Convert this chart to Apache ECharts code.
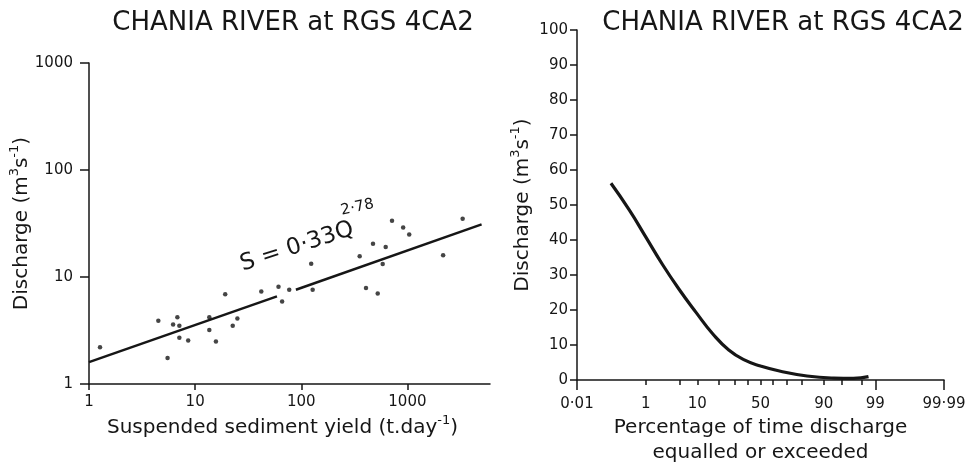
<!DOCTYPE html>
<html>
<head>
<meta charset="utf-8">
<script src="https://cdn.jsdelivr.net/npm/echarts@6/dist/echarts.min.js"></script>
<style>
html, body { margin: 0; padding: 0; background: #fff; }
#chart { width: 971px; height: 464px; }
</style>
</head>
<body>
<div id="chart"></div>
<script>
// sediment rating: observed points (t/day vs m3/s)
var sedimentYield = [1.27, 4.5, 5.5, 6.2, 6.8, 7.1, 7.1, 8.6, 13.6, 13.6, 15.7, 19.2, 22.6, 25, 42, 61, 66, 77,
    124, 128, 355, 407, 474, 525, 585, 624, 716, 912, 1040, 2170, 3315];
var dischargeObs = [2.2, 3.9, 1.75, 3.6, 4.2, 3.5, 2.7, 2.55, 4.2, 3.2, 2.5, 6.9, 3.5, 4.1, 7.3, 8.1, 5.9, 7.6,
    13.3, 7.6, 15.6, 7.9, 20.5, 7.0, 13.2, 19.1, 33.5, 29, 25, 16, 35];
// fitted rating line, drawn in two pieces (gap left for the equation)
var fitYieldA = [1, 59];
var fitQA = [1.6, 6.6];
var fitYieldB = [89, 5000];
var fitQB = [7.6, 31];
var yieldTicks = [1, 10, 100, 1000];

// flow duration curve
var exceedPct = [0.122, 0.39, 1.0, 2.35, 4.9, 9.5, 16.5, 26, 38, 50, 65.7, 82.7, 93.1, 97.0, 98.57];
var flowQ = [56.2, 48.6, 40.9, 33.0, 26.0, 19.4, 13.3, 8.6, 5.6, 4.0, 2.5, 1.15, 0.55, 0.45, 0.95];
var probTicks = [0.01, 1, 5, 10, 20, 30, 40, 50, 60, 70, 80, 90, 95, 98, 99, 99.99];
var probLabels = [0.01, 1, 10, 50, 90, 99, 99.99];
var probLongTicks = [0.01, 99, 99.99];

var FONT = 'DejaVu Sans';
var INK = '#161616';

// inverse normal cdf (Acklam) - gives the probability-paper position
function probit(p) {
    var a = [-39.69683028665376, 220.9460984245205, -275.9285104469687, 138.3577518672690, -30.66479806614716, 2.506628277459239];
    var b = [-54.47609879822406, 161.5858368580409, -155.6989798598866, 66.80131188771972, -13.28068155288572];
    var c = [-0.007784894002430293, -0.3223964580411365, -2.400758277161838, -2.549732539343734, 4.374664141464968, 2.938163982698783];
    var d = [0.007784695709041462, 0.3224671290700398, 2.445134137142996, 3.754408661907416];
    var q, r;
    if (p < 0.02425) {
        q = Math.sqrt(-2 * Math.log(p));
        return (((((c[0]*q+c[1])*q+c[2])*q+c[3])*q+c[4])*q+c[5]) / ((((d[0]*q+d[1])*q+d[2])*q+d[3])*q+1);
    }
    if (p > 1 - 0.02425) {
        q = Math.sqrt(-2 * Math.log(1 - p));
        return -(((((c[0]*q+c[1])*q+c[2])*q+c[3])*q+c[4])*q+c[5]) / ((((d[0]*q+d[1])*q+d[2])*q+d[3])*q+1);
    }
    q = p - 0.5;
    r = q * q;
    return (((((a[0]*r+a[1])*r+a[2])*r+a[3])*r+a[4])*r+a[5])*q / (((((b[0]*r+b[1])*r+b[2])*r+b[3])*r+b[4])*r+1);
}
function pz(pct) { return probit(pct / 100); }

function zip(xs, ys, fx) {
    return xs.map(function (x, i) { return [fx ? fx(x) : x, ys[i]]; });
}

var tickText = { fontFamily: FONT, fontSize: 15, color: INK };
var nameText = {
    fontFamily: FONT, fontSize: 20, color: INK, lineHeight: 28,
    rich: { sup: { fontFamily: FONT, fontSize: 13, color: INK, lineHeight: 15, verticalAlign: 'top' } }
};
var axisLineStyle = { show: true, onZero: false, lineStyle: { color: INK, width: 1.5 } };
var titleText = { fontFamily: FONT, fontSize: 26, fontWeight: 'normal', color: INK };

var option = {
    animation: false,
    backgroundColor: '#fff',
    title: [
        { text: 'CHANIA RIVER at RGS 4CA2', left: 293, top: 10, textAlign: 'center', padding: 0, textStyle: titleText },
        { text: 'CHANIA RIVER at RGS 4CA2', left: 783, top: 10, textAlign: 'center', padding: 0, textStyle: titleText }
    ],
    grid: [
        { left: 89, top: 63, width: 401, height: 321, outerBoundsMode: 'none' },
        { left: 577, top: 30, width: 367, height: 350, outerBoundsMode: 'none' }
    ],
    xAxis: [
        {
            gridIndex: 0, type: 'log', logBase: 10, min: 1, max: 6000,
            name: 'Suspended sediment yield (t.day{sup|-1})',
            nameLocation: 'middle', nameGap: 30, nameMoveOverlap: false,
            nameTextStyle: Object.assign({}, nameText, { padding: [0, 14, 0, 0] }),
            axisLine: axisLineStyle,
            axisTick: { show: true, length: 6, customValues: yieldTicks, lineStyle: { color: INK, width: 1.5 } },
            axisLabel: Object.assign({
                margin: 11, customValues: yieldTicks,
                formatter: function (v) { return String(Math.round(v)); }
            }, tickText),
            splitLine: { show: false }
        },
        {
            gridIndex: 1, type: 'value', min: pz(0.01), max: pz(99.99),
            name: 'Percentage of time discharge\nequalled or exceeded',
            nameLocation: 'middle', nameGap: 35, nameMoveOverlap: false,
            nameTextStyle: Object.assign({}, nameText, { lineHeight: 25 }),
            axisLine: axisLineStyle,
            axisTick: { show: true, length: 5, customValues: probTicks.map(pz), lineStyle: { color: INK, width: 1.5 } },
            axisLabel: Object.assign({
                margin: 17,
                customValues: probLabels.map(pz),
                formatter: function (v) {
                    var best = 0;
                    for (var i = 1; i < probLabels.length; i++) {
                        if (Math.abs(pz(probLabels[i]) - v) < Math.abs(pz(probLabels[best]) - v)) best = i;
                    }
                    return String(probLabels[best]).replace('.', '·');
                }
            }, tickText),
            splitLine: { show: false }
        },
        {
            gridIndex: 1, type: 'value', min: pz(0.01), max: pz(99.99), position: 'bottom',
            axisLine: { show: false },
            axisTick: { show: true, length: 10, customValues: probLongTicks.map(pz), lineStyle: { color: INK, width: 1.5 } },
            axisLabel: { show: false },
            splitLine: { show: false }
        }
    ],
    yAxis: [
        {
            gridIndex: 0, type: 'log', logBase: 10, min: 1, max: 1000,
            name: 'Discharge (m{sup|3}s{sup|-1})',
            nameLocation: 'middle', nameGap: 53, nameMoveOverlap: false,
            nameTextStyle: nameText,
            axisLine: axisLineStyle,
            axisTick: { show: true, length: 9, lineStyle: { color: INK, width: 1.5 } },
            axisLabel: Object.assign({
                margin: 16,
                formatter: function (v) { return String(Math.round(v)); }
            }, tickText),
            splitLine: { show: false }
        },
        {
            gridIndex: 1, type: 'value', min: 0, max: 100, interval: 10,
            name: 'Discharge (m{sup|3}s{sup|-1})',
            nameLocation: 'middle', nameGap: 40, nameMoveOverlap: false,
            nameTextStyle: nameText,
            axisLine: axisLineStyle,
            axisTick: { show: true, length: 7, lineStyle: { color: INK, width: 1.5 } },
            axisLabel: Object.assign({ margin: 9 }, tickText),
            splitLine: { show: false }
        }
    ],
    series: [
        {
            type: 'scatter', xAxisIndex: 0, yAxisIndex: 0,
            data: zip(sedimentYield, dischargeObs),
            symbol: 'circle', symbolSize: 4.5,
            itemStyle: { color: INK }
        },
        {
            type: 'line', xAxisIndex: 0, yAxisIndex: 0,
            data: zip(fitYieldA, fitQA), showSymbol: false,
            lineStyle: { color: INK, width: 2.5 }
        },
        {
            type: 'line', xAxisIndex: 0, yAxisIndex: 0,
            data: zip(fitYieldB, fitQB), showSymbol: false,
            lineStyle: { color: INK, width: 2.5 }
        },
        {
            type: 'line', xAxisIndex: 1, yAxisIndex: 1,
            data: zip(exceedPct, flowQ, pz),
            smooth: 0.5, showSymbol: false,
            lineStyle: { color: INK, width: 3.2 }
        }
    ],
    graphic: [
        {
            type: 'text', x: 241, y: 265, rotation: 18 * Math.PI / 180,
            style: { text: 'S = 0·33Q', font: '23px "DejaVu Sans"', fill: INK, align: 'left', verticalAlign: 'middle' }
        },
        {
            type: 'text', x: 341, y: 211, rotation: 12 * Math.PI / 180,
            style: { text: '2·78', font: '15px "DejaVu Sans"', fill: INK, align: 'left', verticalAlign: 'middle' }
        }
    ]
};

var chart = echarts.init(document.getElementById('chart'));
chart.setOption(option);
</script>
</body>
</html>
